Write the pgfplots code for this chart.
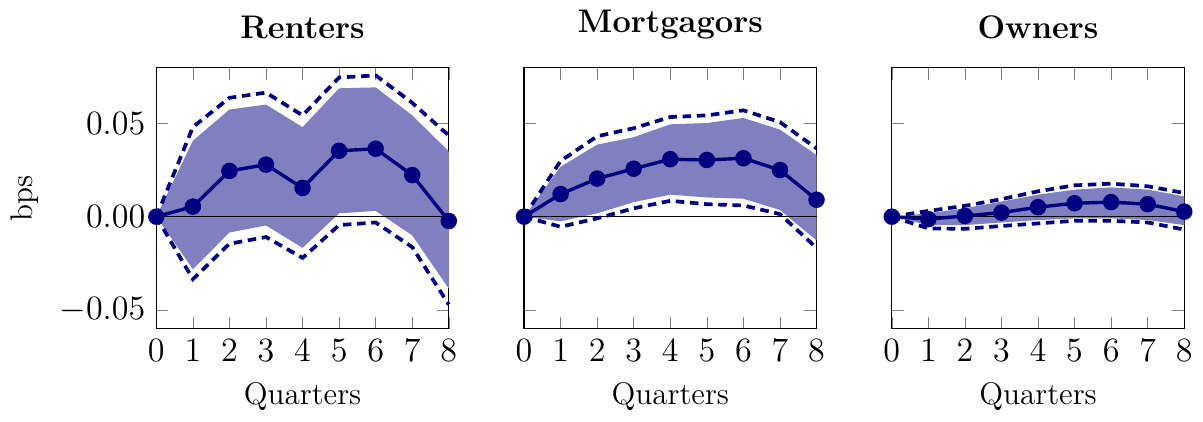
\documentclass[border=0pt]{standalone}
\usepackage{pgfplots}
\pgfplotsset{compat=1.18}
\usepgfplotslibrary{fillbetween}
\definecolor{navy}{RGB}{0,0,128}
\pgfplotsset{
  irf/.style={
    scale only axis, width=103pt, height=92pt,
    xmin=0, xmax=8, ymin=-0.06, ymax=0.08,
    xtick={0,1,2,3,4,5,6,7,8},
    ytick={-0.05,0,0.05},
    yticklabel style={/pgf/number format/.cd, fixed, fixed zerofill, precision=2},
    tick label style={font=\fontsize{12.5}{14}\selectfont},
    scaled y ticks=false,
    xlabel={Quarters},
    title style={font=\fontsize{11.5}{13}\selectfont\bfseries},
    clip=false,
  },
  band/.style={draw=none, forget plot},
  ci/.style={navy, line width=1.3pt, dash pattern=on 3pt off 2pt},
  mean/.style={navy, line width=1.2pt, mark=*, mark size=2.3pt},
}
\begin{document}
\fontsize{11}{13}\selectfont
\begin{tikzpicture}
% ---------- Renters ----------
\begin{axis}[irf, title={Renters}, ylabel={bps}, at={(0pt,0pt)}]
\addplot[band, name path=u1] coordinates {(0,0) (1,0.0407) (2,0.0574) (3,0.0601) (4,0.0480) (5,0.0688) (6,0.0693) (7,0.0543) (8,0.0350)};
\addplot[band, name path=l1] coordinates {(0,0) (1,-0.0281) (2,-0.0085) (3,-0.0047) (4,-0.0167) (5,0.0018) (6,0.0031) (7,-0.0100) (8,-0.0386)};
\addplot[navy!50, draw=none] fill between[of=u1 and l1];
\addplot[black, thin] coordinates {(0,0) (8,0)};
\addplot[ci] coordinates {(0,0) (1,0.0480) (2,0.0637) (3,0.0665) (4,0.0543) (5,0.0746) (6,0.0757) (7,0.0610) (8,0.0435)};
\addplot[ci] coordinates {(0,0) (1,-0.0335) (2,-0.0145) (3,-0.0109) (4,-0.0221) (5,-0.0045) (6,-0.0031) (7,-0.0163) (8,-0.0471)};
\addplot[mean] coordinates {(0,0) (1,0.0054) (2,0.0245) (3,0.0279) (4,0.0154) (5,0.0353) (6,0.0364) (7,0.0223) (8,-0.0023)};
\end{axis}
% ---------- Mortgagors ----------
\begin{axis}[irf, title={Mortgagors}, at={(129.5pt,0pt)}, yticklabels={}]
\addplot[band, name path=u2] coordinates {(0,0) (1,0.0268) (2,0.0386) (3,0.0426) (4,0.0495) (5,0.0502) (6,0.0529) (7,0.0467) (8,0.0330)};
\addplot[band, name path=l2] coordinates {(0,0) (1,-0.0025) (2,0.0018) (3,0.0078) (4,0.0118) (5,0.0103) (6,0.0096) (7,0.0036) (8,-0.0127)};
\addplot[navy!50, draw=none] fill between[of=u2 and l2];
\addplot[black, thin] coordinates {(0,0) (8,0)};
\addplot[ci] coordinates {(0,0) (1,0.0299) (2,0.0431) (3,0.0474) (4,0.0534) (5,0.0543) (6,0.0570) (7,0.0507) (8,0.0366)};
\addplot[ci] coordinates {(0,0) (1,-0.0054) (2,-0.0009) (3,0.0045) (4,0.0085) (5,0.0067) (6,0.0060) (7,0.0014) (8,-0.0167)};
\addplot[mean] coordinates {(0,0) (1,0.0121) (2,0.0204) (3,0.0257) (4,0.0308) (5,0.0304) (6,0.0313) (7,0.0250) (8,0.0091)};
\end{axis}
% ---------- Owners ----------
\begin{axis}[irf, title={Owners}, at={(259pt,0pt)}, yticklabels={}]
\addplot[band, name path=u3] coordinates {(0,0) (1,0.0018) (2,0.0045) (3,0.0081) (4,0.0118) (5,0.0145) (6,0.0157) (7,0.0145) (8,0.0109)};
\addplot[band, name path=l3] coordinates {(0,0) (1,-0.0045) (2,-0.0045) (3,-0.0031) (4,-0.0018) (5,-0.0009) (6,-0.0009) (7,-0.0018) (8,-0.0045)};
\addplot[navy!50, draw=none] fill between[of=u3 and l3];
\addplot[black, thin] coordinates {(0,0) (8,0)};
\addplot[ci] coordinates {(0,0) (1,0.0031) (2,0.0058) (3,0.0094) (4,0.0136) (5,0.0168) (6,0.0177) (7,0.0163) (8,0.0127)};
\addplot[ci] coordinates {(0,0) (1,-0.0063) (2,-0.0065) (3,-0.0050) (4,-0.0036) (5,-0.0022) (6,-0.0022) (7,-0.0031) (8,-0.0069)};
\addplot[mean] coordinates {(0,0) (1,-0.0013) (2,0.0004) (3,0.0022) (4,0.0051) (5,0.0072) (6,0.0078) (7,0.0067) (8,0.0027)};
\end{axis}
\end{tikzpicture}
\end{document}
